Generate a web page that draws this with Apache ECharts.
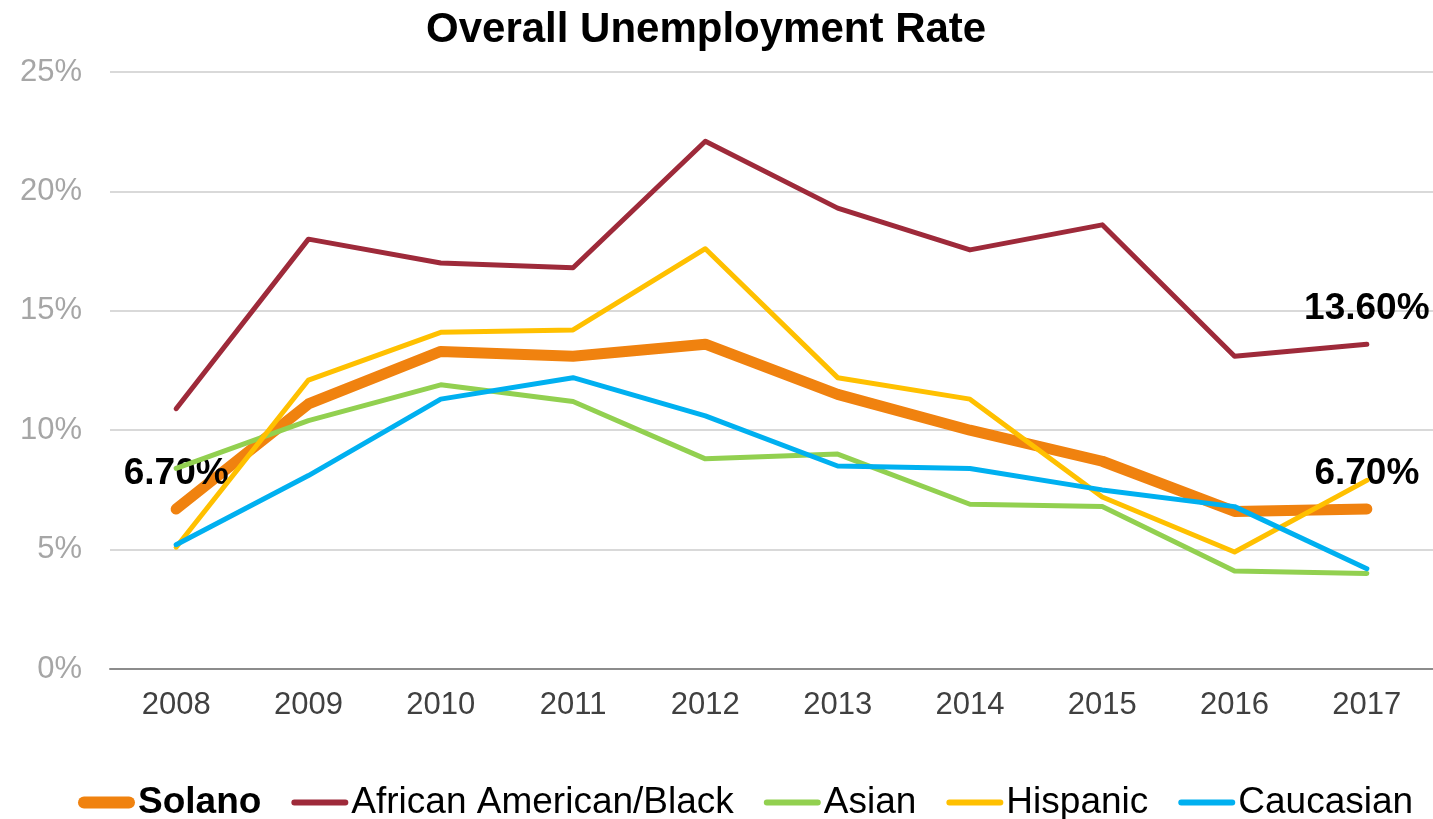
<!DOCTYPE html>
<html><head><meta charset="utf-8">
<script src="https://cdn.jsdelivr.net/npm/echarts@6/dist/echarts.min.js"></script>
<style>html,body{margin:0;padding:0;background:#fff}#c{width:1433px;height:819px}</style>
</head><body><div id="c"></div>
<script>
const years = ['2008','2009','2010','2011','2012','2013','2014','2015','2016','2017'];
const solano = [6.7, 11.1, 13.3, 13.1, 13.6, 11.5, 10.0, 8.7, 6.6, 6.7];
const african = [10.9, 18.0, 17.0, 16.8, 22.1, 19.3, 17.55, 18.6, 13.1, 13.6];
const asian = [8.4, 10.4, 11.9, 11.2, 8.8, 9.0, 6.9, 6.8, 4.1, 4.0];
const hispanic = [5.1, 12.1, 14.1, 14.2, 17.6, 12.2, 11.3, 7.2, 4.9, 7.9];
const caucasian = [5.2, 8.1, 11.3, 12.2, 10.6, 8.5, 8.4, 7.5, 6.8, 4.2];
const yTicks = [0, 5, 10, 15, 20, 25];

const FONT = '"Liberation Sans", Arial, sans-serif';
function withLabels(arr, idxs) {
  return arr.map((v, i) => idxs.includes(i) ? {
    value: v,
    label: { show: true, position: 'top', distance: 16, formatter: v.toFixed(2) + '%',
      fontFamily: FONT, fontWeight: 'bold', fontSize: 37, color: '#000' }
  } : v);
}
function mk(name, data, color, width, z) {
  return {
    name, type: 'line', data, z,
    symbol: 'circle', symbolSize: 1, showSymbol: true,
    itemStyle: { color },
    lineStyle: { color, width, cap: 'round', join: 'round' },
    emphasis: { disabled: true }, animation: false
  };
}
const thinIcon = 'path://M0,0h0.05v0.05h-0.05z M3,3h51a3,3 0 0 1 0,6h-51a3,3 0 0 1 0,-6z M0,11.95h0.05v0.05h-0.05z';
const thickIcon = 'path://M6,0h45a6,6 0 0 1 0,12h-45a6,6 0 0 1 0,-12z';
const chart = echarts.init(document.getElementById('c'));
chart.setOption({
  animation: false,
  title: { text: 'Overall Unemployment Rate', left: 421, top: 4,
    textStyle: { fontFamily: FONT, fontWeight: 'bold', fontSize: 42, color: '#000' } },
  grid: { left: 110, right: 0, top: 72, bottom: 150 },
  xAxis: { type: 'category', data: years, boundaryGap: true,
    axisLine: { lineStyle: { color: '#8c8c8c', width: 2 } }, axisTick: { show: false },
    axisLabel: { fontFamily: FONT, fontSize: 31, color: '#404040', margin: 21 } },
  yAxis: { type: 'value', min: 0, max: 25, interval: 5,
    axisLine: { show: false }, axisTick: { show: false },
    splitLine: { lineStyle: { color: '#d9d9d9', width: 2 } },
    axisLabel: { fontFamily: FONT, fontSize: 31, color: '#a6a6a6', margin: 28,
      formatter: v => yTicks.includes(v) ? v + '%' : '' } },
  legend: { top: 784, left: 78, padding: 0, itemWidth: 57, itemHeight: 12, itemGap: 30,
    textStyle: { fontFamily: FONT, fontSize: 37, color: '#000', padding: [0, 0, 0, -2] },
    data: [
      { name: 'Solano', icon: thickIcon, textStyle: { fontWeight: 'bold' } },
      { name: 'African American/Black', icon: thinIcon },
      { name: 'Asian', icon: thinIcon },
      { name: 'Hispanic', icon: thinIcon },
      { name: 'Caucasian', icon: thinIcon }
    ] },
  series: [
    mk('African American/Black', withLabels(african, [9]), '#9e2a3a', 5, 3),
    mk('Asian', asian, '#92d050', 5, 3),
    mk('Hispanic', hispanic, '#ffc000', 5, 3),
    mk('Caucasian', caucasian, '#00b0f0', 5, 3),
    mk('Solano', withLabels(solano, [0, 9]), '#f0820f', 11, 2)
  ]
});
</script></body></html>
